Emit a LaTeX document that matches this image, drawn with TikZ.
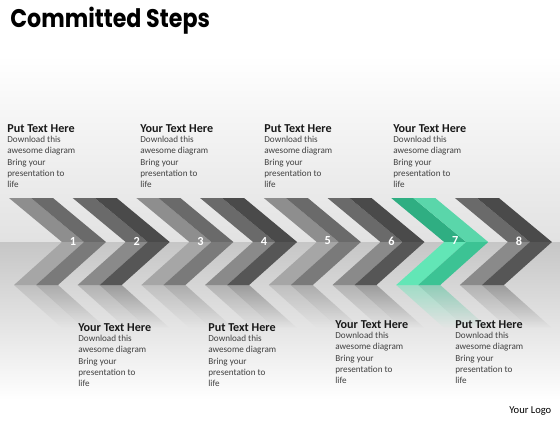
\documentclass[tikz,border=0pt]{standalone}
\usepackage{fontspec}
\setmainfont{Carlito}
\newfontfamily\headfont[FakeStretch=0.87]{Poppins}
\usetikzlibrary{fadings}

\definecolor{bgUp}{HTML}{E2E2E2}
\definecolor{bgLo}{HTML}{C6C6C6}
\definecolor{lgUpL}{HTML}{8E8E8E}
\definecolor{lgUpR}{HTML}{6A6A6A}
\definecolor{lgLoL}{HTML}{A6A6A6}
\definecolor{lgLoR}{HTML}{7A7A7A}
\definecolor{dkUpL}{HTML}{6A6A6A}
\definecolor{dkUpR}{HTML}{4A4A4A}
\definecolor{dkLoL}{HTML}{8A8A8A}
\definecolor{dkLoR}{HTML}{565656}
\definecolor{gnUpL}{HTML}{2FAE82}
\definecolor{gnUpR}{HTML}{5AD6AA}
\definecolor{gnLoL}{HTML}{62E6B6}
\definecolor{gnLoR}{HTML}{3CC394}
\definecolor{bodygray}{HTML}{404040}

\tikzfading[name=reflfade, top color=transparent!55, bottom color=transparent!100]

\begin{document}
\begin{tikzpicture}[x=0.02cm,y=-0.02cm]
\useasboundingbox (0,0) rectangle (560,420);

% background
\fill[white] (0,0) rectangle (560,55);
\shade[top color=white,bottom color=bgUp] (0,55) rectangle (560,242);
\shade[top color=bgLo,bottom color=white] (0,242) rectangle (560,400);
\fill[white] (0,400) rectangle (560,420);

\node[anchor=base west,inner sep=0] (title) at (10,27)
    {\headfont\bfseries\fontsize{14.5}{17}\selectfont Committed Steps};

% chevrons
\foreach \i/\ua/\ub/\la/\lb in {1/lgUpL/lgUpR/lgLoL/lgLoR, 2/dkUpL/dkUpR/dkLoL/dkLoR,
    3/lgUpL/lgUpR/lgLoL/lgLoR, 4/dkUpL/dkUpR/dkLoL/dkLoR,
    5/lgUpL/lgUpR/lgLoL/lgLoR, 6/dkUpL/dkUpR/dkLoL/dkLoR,
    7/gnUpL/gnUpR/gnLoL/gnLoR, 8/dkUpL/dkUpR/dkLoL/dkLoR}{
    \pgfmathsetmacro\xo{9+63.7*(\i-1)}
    \fill[\ua] (\xo,198) -- ++(22,0) -- ++(53,44) -- ++(-22,0) -- cycle;
    \fill[\ub] (\xo+22,198) -- ++(22,0) -- ++(53,44) -- ++(-22,0) -- cycle;
    \fill[\la] (\xo+53,242) -- ++(22,0) -- ++(-48,43) -- ++(-22,0) -- cycle;
    \fill[\lb] (\xo+75,242) -- ++(22,0) -- ++(-48,43) -- ++(-22,0) -- cycle;
    % reflection
    \fill[\la,path fading=reflfade] (\xo+5,285) -- ++(22,0) -- ++(48,43) -- ++(-22,0) -- cycle;
    \fill[\lb,path fading=reflfade] (\xo+27,285) -- ++(22,0) -- ++(48,43) -- ++(-22,0) -- cycle;
    \node[text=white,font=\bfseries\fontsize{7}{8}\selectfont,inner sep=0] (num\i) at (\xo+64,241) {\i};
}

% text blocks (base of a block is its last line)
\begin{scope}[every node/.style={anchor=base west,inner sep=0,align=left}]
\foreach \n/\x/\y/\t in {1/7/132/Put Text Here, 2/140/132/Your Text Here,
    3/264/132/Put Text Here, 4/393/132/Your Text Here,
    5/78/331/Your Text Here, 6/208/331/Put Text Here,
    7/335/328/Your Text Here, 8/455/328/Put Text Here}{
    \node[font=\bfseries\fontsize{6.9}{8}\selectfont,text=black!90] (head\n) at (\x,\y) {\t};
    \node[font=\fontsize{5.2}{6.4}\selectfont,text=bodygray] (body\n) at (\x,\y+55.7)
        {Download this\\awesome diagram\\Bring your\\presentation to\\life};
}
\end{scope}

\node[anchor=base west,inner sep=0,font=\fontsize{6}{7}\selectfont] (logo) at (509,413) {Your Logo};

\end{tikzpicture}
\end{document}
